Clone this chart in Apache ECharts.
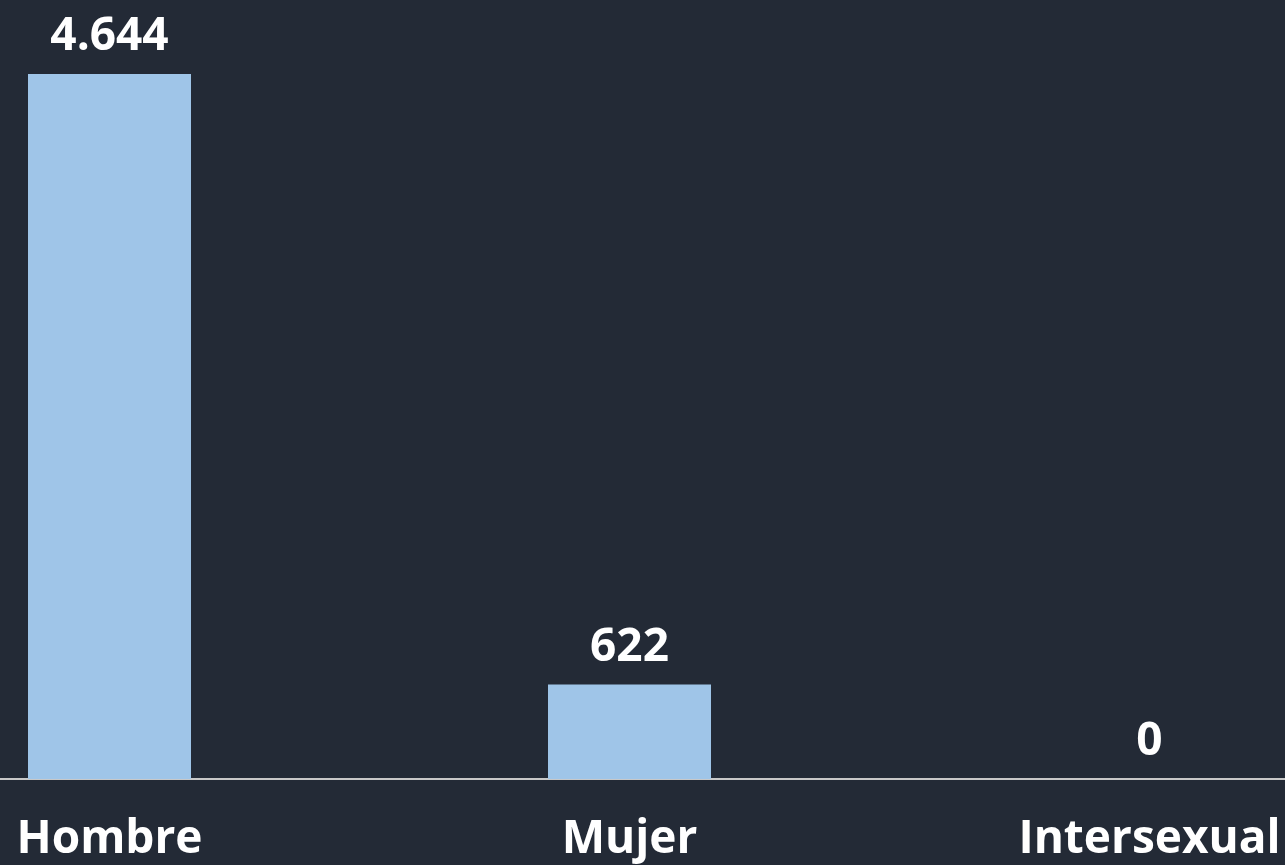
<!DOCTYPE html>
<html>
<head>
<meta charset="utf-8">
<script src="https://cdn.jsdelivr.net/npm/echarts@6/dist/echarts.min.js"></script>
<style>
html,body{margin:0;padding:0;background:#232a36;}
#chart{width:1285px;height:865px;}
</style>
</head>
<body>
<div id="chart"></div>
<script>
const categories = ['Hombre', 'Mujer', 'Intersexual'];
const values = [4644, 622, 0];

const fmt = v => String(v).replace(/\B(?=(\d{3})+(?!\d))/g, '.');

const chart = echarts.init(document.getElementById('chart'));
chart.setOption({
  backgroundColor: '#232a36',
  animation: false,
  grid: { left: -150.5, right: -124.5, top: 74, bottom: 86, containLabel: false, outerBoundsMode: 'none' },
  xAxis: {
    type: 'category',
    data: categories,
    axisLine: { show: true, lineStyle: { color: '#c8c8c8', width: 2 } },
    axisTick: { show: false },
    axisLabel: { color: '#ffffff', fontSize: 46, fontWeight: 'bold', fontFamily: 'Open Sans', margin: 38 }
  },
  yAxis: {
    type: 'value',
    min: 0,
    max: 'dataMax',
    show: false,
    splitLine: { show: false }
  },
  series: [{
    type: 'bar',
    data: values,
    barWidth: 163,
    itemStyle: { color: '#9fc5e8' },
    label: {
      show: true,
      position: 'top',
      distance: 14,
      color: '#ffffff',
      fontSize: 46,
      fontWeight: 'bold',
      fontFamily: 'Open Sans',
      formatter: p => fmt(p.value)
    }
  }]
});
</script>
</body>
</html>
